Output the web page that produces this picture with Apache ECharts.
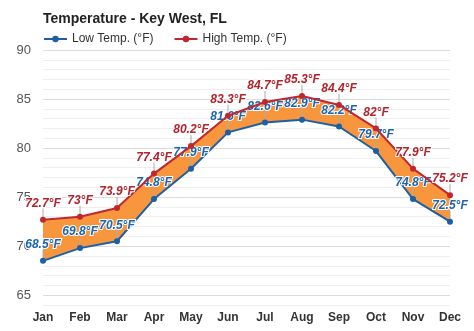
<!DOCTYPE html>
<html>
<head>
<meta charset="utf-8">
<script src="https://cdn.jsdelivr.net/npm/echarts@6/dist/echarts.min.js"></script>
<style>html,body{margin:0;padding:0;background:#fff;}#c{width:474px;height:331px;}</style>
</head>
<body>
<div id="c"></div>
<script>
const months = ['Jan','Feb','Mar','Apr','May','Jun','Jul','Aug','Sep','Oct','Nov','Dec'];
const lowTemp = [68.5, 69.8, 70.5, 74.8, 77.9, 81.6, 82.6, 82.9, 82.2, 79.7, 74.8, 72.5];
const highTemp = [72.7, 73, 73.9, 77.4, 80.2, 83.3, 84.7, 85.3, 84.4, 82, 77.9, 75.2];
const yMin = 64, yMax = 90;

const band = highTemp.map((h, i) => +(h - lowTemp[i]).toFixed(2));
const leaderData = lowTemp.map((v, i) => [i, v]).concat(highTemp.map((v, i) => [i, v]));
const font = '"Liberation Sans", Arial, sans-serif';

function labelCfg(color) {
  return {
    show: true,
    position: 'top',
    distance: 7,
    formatter: p => p.value + '°F',
    color: color,
    fontFamily: font,
    fontSize: 12,
    fontWeight: 'bold',
    fontStyle: 'italic',
    textBorderColor: '#fff',
    textBorderWidth: 2
  };
}

const chart = echarts.init(document.getElementById('c'), null, {renderer: 'canvas'});
chart.setOption({
  animation: false,
  title: {
    text: 'Temperature - Key West, FL',
    left: 38, top: 7,
    textStyle: {fontFamily: font, fontSize: 14, fontWeight: 'bold', color: '#222'}
  },
  legend: {
    left: 38, top: 28,
    itemWidth: 23, itemHeight: 8, itemGap: 20,
    textStyle: {fontFamily: font, fontSize: 12, color: '#333'},
    data: ['Low Temp. (°F)', 'High Temp. (°F)']
  },
  grid: {left: 43, right: 24, top: 50, bottom: 26, containLabel: false},
  xAxis: {
    type: 'category',
    data: months,
    boundaryGap: false,
    axisLine: {show: false},
    axisTick: {show: false},
    axisLabel: {fontFamily: font, fontSize: 12, fontWeight: 'bold', color: '#333', margin: 7}
  },
  yAxis: {
    type: 'value',
    min: yMin, max: yMax, interval: 1,
    axisLine: {show: false},
    axisTick: {show: false},
    axisLabel: {
      fontFamily: font, fontSize: 13, color: '#555', margin: 12,
      formatter: v => (v % 5 === 0 ? String(v) : '')
    },
    splitLine: {lineStyle: {color: ['#eeeeee', '#dcdcdc', '#eeeeee', '#eeeeee', '#eeeeee'], width: 1}}
  },
  series: [
    {
      name: 'base', type: 'line', data: lowTemp, stack: 'band',
      symbol: 'none', lineStyle: {opacity: 0}, silent: true, z: 1
    },
    {
      name: 'range', type: 'line', data: band, stack: 'band',
      symbol: 'none', lineStyle: {opacity: 0},
      areaStyle: {color: '#f8963d', opacity: 1}, silent: true, z: 1
    },
    {
      name: 'leaders', type: 'custom', data: leaderData, silent: true, z: 2,
      renderItem: (params, api) => {
        const p = api.coord([api.value(0), api.value(1)]);
        return {
          type: 'line',
          shape: {x1: p[0], y1: p[1], x2: p[0], y2: p[1] - 11},
          style: {stroke: '#aaaaaa', lineWidth: 1}
        };
      }
    },
    {
      name: 'Low Temp. (°F)', type: 'line', data: lowTemp,
      color: '#1d5fa6',
      symbol: 'circle', symbolSize: 6,
      lineStyle: {width: 2, color: '#1d5fa6'},
      itemStyle: {color: '#1d5fa6'},
      label: labelCfg('#1a64b0'),
      z: 3
    },
    {
      name: 'High Temp. (°F)', type: 'line', data: highTemp,
      color: '#c1272d',
      symbol: 'circle', symbolSize: 6,
      lineStyle: {width: 2, color: '#c1272d'},
      itemStyle: {color: '#c1272d'},
      label: labelCfg('#b3232b'),
      z: 4
    }
  ]
});
</script>
</body>
</html>
